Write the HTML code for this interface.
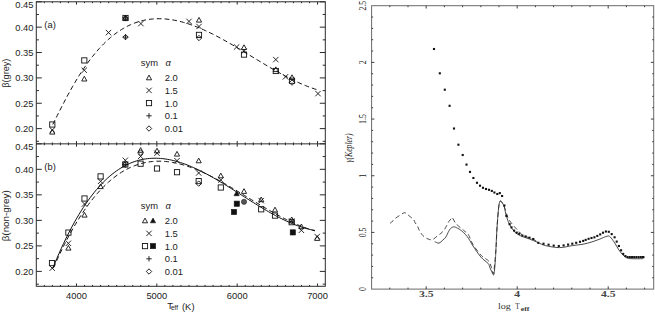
<!DOCTYPE html><html><head><meta charset="utf-8"><style>
html,body{margin:0;padding:0;background:#fff;width:655px;height:312px;overflow:hidden}
svg{display:block}
.ax{fill:none;stroke:#2a2a2a;stroke-width:1}
.o{fill:none;stroke:#111;stroke-width:0.9}
.f{fill:#111;stroke:#111;stroke-width:0.6}
.g{fill:#555;stroke:#222;stroke-width:0.6}
.ln{fill:none;stroke:#111;stroke-width:1}
.dl{fill:none;stroke:#111;stroke-width:1;stroke-dasharray:4.8 3}
.ts{font-family:"Liberation Sans",sans-serif;font-size:9.4px;fill:#222}
.tr{font-family:"Liberation Serif",serif;fill:#222}
</style></head><body>
<svg width="655" height="312" viewBox="0 0 655 312">
<rect x="36.3" y="1.8" width="289" height="284.5" class="ax"/>
<path class="ax" d="M36.3 143.85 H325.3"/>
<path class="ax" d="M44.34 143.85 v-1.4 M44.34 1.8 v1.4 M44.34 286.3 v-1.4 M44.34 143.85 v1.4 M52.37 143.85 v-1.4 M52.37 1.8 v1.4 M52.37 286.3 v-1.4 M52.37 143.85 v1.4 M60.41 143.85 v-1.4 M60.41 1.8 v1.4 M60.41 286.3 v-1.4 M60.41 143.85 v1.4 M68.44 143.85 v-1.4 M68.44 1.8 v1.4 M68.44 286.3 v-1.4 M68.44 143.85 v1.4 M76.48 143.85 v-2.8 M76.48 1.8 v2.8 M76.48 286.3 v-2.8 M76.48 143.85 v2.8 M84.52 143.85 v-1.4 M84.52 1.8 v1.4 M84.52 286.3 v-1.4 M84.52 143.85 v1.4 M92.55 143.85 v-1.4 M92.55 1.8 v1.4 M92.55 286.3 v-1.4 M92.55 143.85 v1.4 M100.59 143.85 v-1.4 M100.59 1.8 v1.4 M100.59 286.3 v-1.4 M100.59 143.85 v1.4 M108.62 143.85 v-1.4 M108.62 1.8 v1.4 M108.62 286.3 v-1.4 M108.62 143.85 v1.4 M116.66 143.85 v-1.4 M116.66 1.8 v1.4 M116.66 286.3 v-1.4 M116.66 143.85 v1.4 M124.7 143.85 v-1.4 M124.7 1.8 v1.4 M124.7 286.3 v-1.4 M124.7 143.85 v1.4 M132.73 143.85 v-1.4 M132.73 1.8 v1.4 M132.73 286.3 v-1.4 M132.73 143.85 v1.4 M140.77 143.85 v-1.4 M140.77 1.8 v1.4 M140.77 286.3 v-1.4 M140.77 143.85 v1.4 M148.8 143.85 v-1.4 M148.8 1.8 v1.4 M148.8 286.3 v-1.4 M148.8 143.85 v1.4 M156.84 143.85 v-2.8 M156.84 1.8 v2.8 M156.84 286.3 v-2.8 M156.84 143.85 v2.8 M164.88 143.85 v-1.4 M164.88 1.8 v1.4 M164.88 286.3 v-1.4 M164.88 143.85 v1.4 M172.91 143.85 v-1.4 M172.91 1.8 v1.4 M172.91 286.3 v-1.4 M172.91 143.85 v1.4 M180.95 143.85 v-1.4 M180.95 1.8 v1.4 M180.95 286.3 v-1.4 M180.95 143.85 v1.4 M188.98 143.85 v-1.4 M188.98 1.8 v1.4 M188.98 286.3 v-1.4 M188.98 143.85 v1.4 M197.02 143.85 v-1.4 M197.02 1.8 v1.4 M197.02 286.3 v-1.4 M197.02 143.85 v1.4 M205.06 143.85 v-1.4 M205.06 1.8 v1.4 M205.06 286.3 v-1.4 M205.06 143.85 v1.4 M213.09 143.85 v-1.4 M213.09 1.8 v1.4 M213.09 286.3 v-1.4 M213.09 143.85 v1.4 M221.13 143.85 v-1.4 M221.13 1.8 v1.4 M221.13 286.3 v-1.4 M221.13 143.85 v1.4 M229.16 143.85 v-1.4 M229.16 1.8 v1.4 M229.16 286.3 v-1.4 M229.16 143.85 v1.4 M237.2 143.85 v-2.8 M237.2 1.8 v2.8 M237.2 286.3 v-2.8 M237.2 143.85 v2.8 M245.24 143.85 v-1.4 M245.24 1.8 v1.4 M245.24 286.3 v-1.4 M245.24 143.85 v1.4 M253.27 143.85 v-1.4 M253.27 1.8 v1.4 M253.27 286.3 v-1.4 M253.27 143.85 v1.4 M261.31 143.85 v-1.4 M261.31 1.8 v1.4 M261.31 286.3 v-1.4 M261.31 143.85 v1.4 M269.34 143.85 v-1.4 M269.34 1.8 v1.4 M269.34 286.3 v-1.4 M269.34 143.85 v1.4 M277.38 143.85 v-1.4 M277.38 1.8 v1.4 M277.38 286.3 v-1.4 M277.38 143.85 v1.4 M285.42 143.85 v-1.4 M285.42 1.8 v1.4 M285.42 286.3 v-1.4 M285.42 143.85 v1.4 M293.45 143.85 v-1.4 M293.45 1.8 v1.4 M293.45 286.3 v-1.4 M293.45 143.85 v1.4 M301.49 143.85 v-1.4 M301.49 1.8 v1.4 M301.49 286.3 v-1.4 M301.49 143.85 v1.4 M309.52 143.85 v-1.4 M309.52 1.8 v1.4 M309.52 286.3 v-1.4 M309.52 143.85 v1.4 M317.56 143.85 v-2.8 M317.56 1.8 v2.8 M317.56 286.3 v-2.8 M317.56 143.85 v2.8 M36.3 1.8 h5.5 M325.3 1.8 h-5.5 M36.3 143.8 h5.5 M325.3 143.8 h-5.5 M36.3 14.48 h2.6 M325.3 14.48 h-2.6 M36.3 156.56 h2.6 M325.3 156.56 h-2.6 M36.3 27.16 h5.5 M325.3 27.16 h-5.5 M36.3 169.32 h5.5 M325.3 169.32 h-5.5 M36.3 39.85 h2.6 M325.3 39.85 h-2.6 M36.3 182.08 h2.6 M325.3 182.08 h-2.6 M36.3 52.53 h5.5 M325.3 52.53 h-5.5 M36.3 194.84 h5.5 M325.3 194.84 h-5.5 M36.3 65.21 h2.6 M325.3 65.21 h-2.6 M36.3 207.6 h2.6 M325.3 207.6 h-2.6 M36.3 77.9 h5.5 M325.3 77.9 h-5.5 M36.3 220.36 h5.5 M325.3 220.36 h-5.5 M36.3 90.58 h2.6 M325.3 90.58 h-2.6 M36.3 233.12 h2.6 M325.3 233.12 h-2.6 M36.3 103.26 h5.5 M325.3 103.26 h-5.5 M36.3 245.88 h5.5 M325.3 245.88 h-5.5 M36.3 115.94 h2.6 M325.3 115.94 h-2.6 M36.3 258.64 h2.6 M325.3 258.64 h-2.6 M36.3 128.62 h5.5 M325.3 128.62 h-5.5 M36.3 271.4 h5.5 M325.3 271.4 h-5.5 M36.3 141.31 h2.6 M325.3 141.31 h-2.6 M36.3 284.16 h2.6 M325.3 284.16 h-2.6"/>
<text class="ts" x="33.5" y="7.7" text-anchor="end">0.45</text>
<text class="ts" x="33.5" y="30.66" text-anchor="end">0.40</text>
<text class="ts" x="33.5" y="56.03" text-anchor="end">0.35</text>
<text class="ts" x="33.5" y="81.4" text-anchor="end">0.30</text>
<text class="ts" x="33.5" y="106.76" text-anchor="end">0.25</text>
<text class="ts" x="33.5" y="132.12" text-anchor="end">0.20</text>
<text class="ts" x="33.5" y="149.8" text-anchor="end">0.45</text>
<text class="ts" x="33.5" y="172.82" text-anchor="end">0.40</text>
<text class="ts" x="33.5" y="198.34" text-anchor="end">0.35</text>
<text class="ts" x="33.5" y="223.86" text-anchor="end">0.30</text>
<text class="ts" x="33.5" y="249.38" text-anchor="end">0.25</text>
<text class="ts" x="33.5" y="274.9" text-anchor="end">0.20</text>
<text class="ts" x="76.48" y="298.6" text-anchor="middle">4000</text>
<text class="ts" x="156.84" y="298.6" text-anchor="middle">5000</text>
<text class="ts" x="237.2" y="298.6" text-anchor="middle">6000</text>
<text class="ts" x="317.56" y="298.6" text-anchor="middle">7000</text>
<text class="ts" x="167.3" y="308.6">T</text><text class="ts" x="171" y="310.4" style="font-size:6.5px">eff</text><text class="ts" x="182" y="309.6">(K)</text>
<text class="ts" transform="translate(8.7,73.2) rotate(-90)" text-anchor="middle" textLength="29" lengthAdjust="spacingAndGlyphs">β(grey)</text>
<text class="ts" transform="translate(8.7,215.8) rotate(-90)" text-anchor="middle" textLength="51" lengthAdjust="spacingAndGlyphs">β(non-grey)</text>
<text class="ts" x="44.3" y="27.5">(a)</text>
<text class="ts" x="44.3" y="169.8">(b)</text>
<text class="ts" x="140.8" y="65.6">sym</text><text class="ts" x="165.6" y="65.6" style="font-style:italic">α</text>
<path d="M149 75.1 L146.4 79.8 L151.6 79.8 Z" class="o"/>
<text class="ts" x="164.8" y="81.1">2.0</text>
<path d="M146.3 87.7 L151.7 93.1 M146.3 93.1 L151.7 87.7" class="o"/>
<text class="ts" x="164.8" y="93.8">1.5</text>
<rect x="146.4" y="100.5" width="5.2" height="5.2" class="o"/>
<text class="ts" x="164.8" y="106.5">1.0</text>
<path d="M146.3 115.8 L151.7 115.8 M149 113.1 L149 118.5" class="o"/>
<text class="ts" x="164.8" y="119.2">0.1</text>
<path d="M149 125.8 L151.7 128.5 L149 131.2 L146.3 128.5 Z" class="o"/>
<text class="ts" x="164.8" y="131.9">0.01</text>
<text class="ts" x="140.8" y="208.7">sym</text><text class="ts" x="165.6" y="208.7" style="font-style:italic">α</text>
<path d="M145 218.1 L142.4 222.8 L147.6 222.8 Z" class="o"/>
<path d="M153 218.1 L150.4 222.8 L155.6 222.8 Z" class="f"/>
<text class="ts" x="164.8" y="224.1">2.0</text>
<path d="M146.3 230.7 L151.7 236.1 M146.3 236.1 L151.7 230.7" class="o"/>
<text class="ts" x="164.8" y="236.8">1.5</text>
<rect x="142.4" y="243.5" width="5.2" height="5.2" class="o"/>
<rect x="150.4" y="243.5" width="5.2" height="5.2" class="f"/>
<text class="ts" x="164.8" y="249.5">1.0</text>
<path d="M146.3 258.8 L151.7 258.8 M149 256.1 L149 261.5" class="o"/>
<text class="ts" x="164.8" y="262.2">0.1</text>
<path d="M149 268.8 L151.7 271.5 L149 274.2 L146.3 271.5 Z" class="o"/>
<text class="ts" x="164.8" y="274.9">0.01</text>
<path class="dl" d="M52.8 124.5 L55.02 120.02 L57.23 115.57 L59.45 111.17 L61.66 106.83 L63.88 102.55 L66.1 98.35 L68.31 94.23 L70.53 90.2 L72.74 86.27 L74.96 82.45 L77.18 78.75 L79.39 75.18 L81.61 71.73 L83.82 68.4 L86.04 65.19 L88.26 62.11 L90.47 59.14 L92.69 56.3 L94.9 53.57 L97.12 50.96 L99.34 48.46 L101.55 46.08 L103.77 43.81 L105.98 41.66 L108.2 39.61 L110.42 37.67 L112.63 35.84 L114.85 34.12 L117.06 32.49 L119.28 30.97 L121.49 29.55 L123.71 28.22 L125.93 26.99 L128.14 25.86 L130.36 24.81 L132.57 23.86 L134.79 22.99 L137.01 22.21 L139.22 21.51 L141.44 20.9 L143.65 20.36 L145.87 19.91 L148.09 19.53 L150.3 19.22 L152.52 18.99 L154.73 18.83 L156.95 18.74 L159.17 18.72 L161.38 18.76 L163.6 18.86 L165.81 19.03 L168.03 19.26 L170.25 19.54 L172.46 19.88 L174.68 20.28 L176.89 20.73 L179.11 21.23 L181.33 21.78 L183.54 22.38 L185.76 23.03 L187.97 23.72 L190.19 24.46 L192.41 25.24 L194.62 26.06 L196.84 26.92 L199.05 27.82 L201.27 28.76 L203.49 29.73 L205.7 30.73 L207.92 31.76 L210.13 32.83 L212.35 33.92 L214.57 35.05 L216.78 36.19 L219 37.36 L221.21 38.56 L223.43 39.77 L225.65 41.01 L227.86 42.26 L230.08 43.53 L232.29 44.82 L234.51 46.11 L236.73 47.42 L238.94 48.74 L241.16 50.07 L243.37 51.41 L245.59 52.75 L247.81 54.1 L250.02 55.45 L252.24 56.8 L254.45 58.15 L256.67 59.49 L258.88 60.84 L261.1 62.18 L263.32 63.51 L265.53 64.84 L267.75 66.15 L269.96 67.46 L272.18 68.75 L274.4 70.02 L276.61 71.29 L278.83 72.53 L281.04 73.76 L283.26 74.96 L285.48 76.14 L287.69 77.3 L289.91 78.44 L292.12 79.55 L294.34 80.63 L296.56 81.68 L298.77 82.7 L300.99 83.69 L303.2 84.64 L305.42 85.56 L307.64 86.44 L309.85 87.28 L312.07 88.08 L314.28 88.84 L316.5 89.55"/>
<path class="ln" d="M52.5 268.9 L54.71 263.51 L56.91 258.29 L59.12 253.22 L61.32 248.31 L63.53 243.56 L65.74 238.95 L67.94 234.5 L70.15 230.2 L72.35 226.05 L74.56 222.04 L76.76 218.17 L78.97 214.45 L81.18 210.86 L83.38 207.42 L85.59 204.11 L87.79 200.93 L90 197.88 L92.21 194.97 L94.41 192.18 L96.62 189.52 L98.82 186.98 L101.03 184.57 L103.24 182.28 L105.44 180.1 L107.65 178.04 L109.85 176.1 L112.06 174.27 L114.26 172.55 L116.47 170.93 L118.68 169.43 L120.88 168.03 L123.09 166.73 L125.29 165.53 L127.5 164.43 L129.71 163.43 L131.91 162.52 L134.12 161.71 L136.32 160.99 L138.53 160.35 L140.74 159.8 L142.94 159.34 L145.15 158.96 L147.35 158.66 L149.56 158.44 L151.76 158.3 L153.97 158.23 L156.18 158.23 L158.38 158.31 L160.59 158.45 L162.79 158.66 L165 158.94 L167.21 159.28 L169.41 159.68 L171.62 160.15 L173.82 160.67 L176.03 161.24 L178.24 161.87 L180.44 162.55 L182.65 163.29 L184.85 164.07 L187.06 164.9 L189.26 165.77 L191.47 166.69 L193.68 167.65 L195.88 168.65 L198.09 169.68 L200.29 170.76 L202.5 171.86 L204.71 173 L206.91 174.17 L209.12 175.37 L211.32 176.59 L213.53 177.84 L215.74 179.11 L217.94 180.41 L220.15 181.72 L222.35 183.05 L224.56 184.4 L226.76 185.76 L228.97 187.13 L231.18 188.51 L233.38 189.9 L235.59 191.3 L237.79 192.7 L240 194.11 L242.21 195.51 L244.41 196.92 L246.62 198.32 L248.82 199.72 L251.03 201.11 L253.24 202.49 L255.44 203.87 L257.65 205.23 L259.85 206.58 L262.06 207.91 L264.26 209.22 L266.47 210.52 L268.68 211.8 L270.88 213.05 L273.09 214.28 L275.29 215.48 L277.5 216.65 L279.71 217.79 L281.91 218.91 L284.12 219.98 L286.32 221.02 L288.53 222.03 L290.74 222.99 L292.94 223.92 L295.15 224.8 L297.35 225.63 L299.56 226.42 L301.76 227.16 L303.97 227.85 L306.18 228.49 L308.38 229.08 L310.59 229.6 L312.79 230.07 L315 230.49"/>
<path class="dl" d="M53.5 267.92 L55.7 262.92 L57.89 258.08 L60.09 253.37 L62.29 248.8 L64.49 244.37 L66.68 240.07 L68.88 235.91 L71.08 231.88 L73.28 227.99 L75.47 224.22 L77.67 220.58 L79.87 217.07 L82.07 213.68 L84.26 210.41 L86.46 207.27 L88.66 204.25 L90.86 201.34 L93.05 198.55 L95.25 195.88 L97.45 193.32 L99.65 190.87 L101.84 188.53 L104.04 186.3 L106.24 184.18 L108.44 182.16 L110.63 180.25 L112.83 178.44 L115.03 176.73 L117.23 175.12 L119.42 173.61 L121.62 172.19 L123.82 170.87 L126.02 169.64 L128.21 168.5 L130.41 167.45 L132.61 166.48 L134.81 165.61 L137 164.82 L139.2 164.11 L141.4 163.48 L143.6 162.93 L145.79 162.46 L147.99 162.07 L150.19 161.75 L152.39 161.51 L154.58 161.34 L156.78 161.23 L158.98 161.2 L161.18 161.23 L163.37 161.33 L165.57 161.49 L167.77 161.72 L169.97 162 L172.16 162.35 L174.36 162.75 L176.56 163.2 L178.76 163.71 L180.95 164.27 L183.15 164.89 L185.35 165.55 L187.55 166.25 L189.74 167.01 L191.94 167.8 L194.14 168.64 L196.34 169.52 L198.53 170.44 L200.73 171.39 L202.93 172.38 L205.13 173.4 L207.32 174.45 L209.52 175.53 L211.72 176.65 L213.92 177.78 L216.11 178.95 L218.31 180.13 L220.51 181.34 L222.71 182.57 L224.9 183.81 L227.1 185.07 L229.3 186.35 L231.5 187.64 L233.69 188.94 L235.89 190.25 L238.09 191.57 L240.29 192.9 L242.48 194.23 L244.68 195.57 L246.88 196.91 L249.08 198.25 L251.27 199.58 L253.47 200.92 L255.67 202.25 L257.87 203.58 L260.06 204.89 L262.26 206.2 L264.46 207.5 L266.66 208.79 L268.85 210.06 L271.05 211.32 L273.25 212.56 L275.45 213.78 L277.64 214.99 L279.84 216.17 L282.04 217.33 L284.24 218.46 L286.43 219.57 L288.63 220.65 L290.83 221.7 L293.03 222.72 L295.22 223.7 L297.42 224.66 L299.62 225.57 L301.82 226.45 L304.01 227.29 L306.21 228.09 L308.41 228.85 L310.61 229.56 L312.8 230.23 L315 230.85"/>
<rect x="49.7" y="121.9" width="5.2" height="5.2" class="o"/>
<path d="M49.6 127.3 L55 132.7 M49.6 132.7 L55 127.3" class="o"/>
<path d="M52.3 129.4 L49.7 134.1 L54.9 134.1 Z" class="o"/>
<rect x="81.7" y="57.8" width="5.2" height="5.2" class="o"/>
<path d="M81.6 67.5 L87 72.9 M81.6 72.9 L87 67.5" class="o"/>
<path d="M84.3 76.3 L81.7 81 L86.9 81 Z" class="o"/>
<path d="M105.8 29.9 L111.2 35.3 M105.8 35.3 L111.2 29.9" class="o"/>
<rect x="122.9" y="15.4" width="5.2" height="5.2" class="o"/>
<path d="M125.5 15.4 L122.9 20.1 L128.1 20.1 Z" class="o"/>
<path d="M122.8 18 L128.2 18 M125.5 15.3 L125.5 20.7" class="o"/>
<path d="M125.5 15.3 L128.2 18 L125.5 20.7 L122.8 18 Z" class="o"/>
<path d="M125.5 34.4 L128.2 37.1 L125.5 39.8 L122.8 37.1 Z" class="o"/>
<path d="M122.8 37.1 L128.2 37.1 M125.5 34.4 L125.5 39.8" class="o"/>
<path d="M138.2 20.9 L143.6 26.3 M138.2 26.3 L143.6 20.9" class="o"/>
<path d="M186.3 18.7 L191.7 24.1 M186.3 24.1 L191.7 18.7" class="o"/>
<path d="M199 17.4 L196.4 22.1 L201.6 22.1 Z" class="o"/>
<path d="M196.3 23.8 L201.7 29.2 M196.3 29.2 L201.7 23.8" class="o"/>
<rect x="196.4" y="32.3" width="5.2" height="5.2" class="o"/>
<path d="M199 35.3 L201.7 38 L199 40.7 L196.3 38 Z" class="o"/>
<path d="M233.9 44.3 L239.3 49.7 M233.9 49.7 L239.3 44.3" class="o"/>
<path d="M244 44.8 L241.4 49.5 L246.6 49.5 Z" class="o"/>
<path d="M241.3 48.5 L246.7 53.9 M241.3 53.9 L246.7 48.5" class="o"/>
<rect x="241.4" y="52" width="5.2" height="5.2" class="o"/>
<path d="M273.1 56.9 L278.5 62.3 M273.1 62.3 L278.5 56.9" class="o"/>
<rect x="273.2" y="68.4" width="5.2" height="5.2" class="o"/>
<path d="M275.8 66.9 L273.2 71.6 L278.4 71.6 Z" class="o"/>
<path d="M282.8 74.1 L288.2 79.5 M282.8 79.5 L288.2 74.1" class="o"/>
<path d="M292 74.8 L289.4 79.5 L294.6 79.5 Z" class="o"/>
<rect x="289.4" y="78.1" width="5.2" height="5.2" class="o"/>
<path d="M292 79.9 L294.7 82.6 L292 85.3 L289.3 82.6 Z" class="o"/>
<path d="M315.3 90.9 L320.7 96.3 M315.3 96.3 L320.7 90.9" class="o"/>
<rect x="49.4" y="260.5" width="5.2" height="5.2" class="o"/>
<path d="M49.5 265.5 L54.9 270.9 M49.5 270.9 L54.9 265.5" class="o"/>
<rect x="65.8" y="230" width="5.2" height="5.2" class="o"/>
<path d="M65.7 240.6 L71.1 246 M65.7 246 L71.1 240.6" class="o"/>
<path d="M68.4 245.4 L65.8 250.1 L71 250.1 Z" class="o"/>
<rect x="81.9" y="195.9" width="5.2" height="5.2" class="o"/>
<path d="M81.8 201.3 L87.2 206.7 M81.8 206.7 L87.2 201.3" class="o"/>
<path d="M84.5 212.4 L81.9 217.1 L87.1 217.1 Z" class="o"/>
<rect x="98" y="173.8" width="5.2" height="5.2" class="o"/>
<path d="M97.9 178.6 L103.3 184 M97.9 184 L103.3 178.6" class="o"/>
<path d="M100.6 183.9 L98 188.6 L103.2 188.6 Z" class="o"/>
<path d="M122.6 157.6 L128 163 M122.6 163 L128 157.6" class="o"/>
<rect x="122.7" y="161.9" width="5.2" height="5.2" class="o"/>
<path d="M125.3 161.8 L128 164.5 L125.3 167.2 L122.6 164.5 Z" class="o"/>
<path d="M122.6 164.5 L128 164.5 M125.3 161.8 L125.3 167.2" class="o"/>
<path d="M140.6 147.6 L138 152.3 L143.2 152.3 Z" class="o"/>
<path d="M140.6 149.8 L143.3 152.5 L140.6 155.2 L137.9 152.5 Z" class="o"/>
<path d="M137.9 153.7 L143.3 159.1 M137.9 159.1 L143.3 153.7" class="o"/>
<rect x="138" y="161.1" width="5.2" height="5.2" class="o"/>
<path d="M157 148.2 L154.4 152.9 L159.6 152.9 Z" class="o"/>
<path d="M154.3 150.5 L159.7 155.9 M154.3 155.9 L159.7 150.5" class="o"/>
<rect x="154.4" y="165.9" width="5.2" height="5.2" class="o"/>
<path d="M177 151.4 L174.4 156.1 L179.6 156.1 Z" class="o"/>
<path d="M174.3 158 L179.7 163.4 M174.3 163.4 L179.7 158" class="o"/>
<rect x="174.4" y="169.6" width="5.2" height="5.2" class="o"/>
<path d="M198.7 158.1 L196.1 162.8 L201.3 162.8 Z" class="o"/>
<path d="M196 170.3 L201.4 175.7 M196 175.7 L201.4 170.3" class="o"/>
<rect x="196.1" y="178.5" width="5.2" height="5.2" class="o"/>
<path d="M198.7 180.9 L201.4 183.6 L198.7 186.3 L196 183.6 Z" class="o"/>
<path d="M220.8 173.1 L218.2 177.8 L223.4 177.8 Z" class="o"/>
<path d="M218.1 177.3 L223.5 182.7 M218.1 182.7 L223.5 177.3" class="o"/>
<rect x="218.2" y="184.9" width="5.2" height="5.2" class="o"/>
<path d="M236.6 191 L234 195.7 L239.2 195.7 Z" class="f"/>
<rect x="234.2" y="201.1" width="5.2" height="5.2" class="f"/>
<rect x="231.4" y="209.4" width="5.2" height="5.2" class="f"/>
<path d="M244 188.7 L241.4 193.4 L246.6 193.4 Z" class="o"/>
<circle cx="244" cy="201.8" r="2.6" class="g"/>
<path d="M261.2 197 L258.6 201.7 L263.8 201.7 Z" class="o"/>
<path d="M258.5 197.9 L263.9 203.3 M258.5 203.3 L263.9 197.9" class="o"/>
<rect x="258.6" y="206.7" width="5.2" height="5.2" class="o"/>
<path d="M275 207.2 L272.4 211.9 L277.6 211.9 Z" class="o"/>
<rect x="272.4" y="213" width="5.2" height="5.2" class="o"/>
<path d="M291.7 217 L289.1 221.7 L294.3 221.7 Z" class="o"/>
<path d="M289 218.3 L294.4 223.7 M289 223.7 L294.4 218.3" class="o"/>
<rect x="289.1" y="219.6" width="5.2" height="5.2" class="o"/>
<rect x="290.2" y="229.8" width="5.2" height="5.2" class="f"/>
<path d="M301.4 224 L298.8 228.7 L304 228.7 Z" class="o"/>
<path d="M298.7 227.6 L304.1 233 M298.7 233 L304.1 227.6" class="o"/>
<path d="M314.5 233.9 L319.9 239.3 M314.5 239.3 L319.9 233.9" class="o"/>
<path d="M317.2 235.7 L314.6 240.4 L319.8 240.4 Z" class="o"/>
<rect x="371.6" y="5.7" width="282.1" height="283.4" class="ax" style="stroke:#6a6a6a"/>
<path class="ax" d="M389.8 289.1 v-1.5 M389.8 5.7 v1.5 M408 289.1 v-1.5 M408 5.7 v1.5 M426.2 289.1 v-2.8 M426.2 5.7 v2.8 M444.4 289.1 v-1.5 M444.4 5.7 v1.5 M462.6 289.1 v-1.5 M462.6 5.7 v1.5 M480.8 289.1 v-1.5 M480.8 5.7 v1.5 M499 289.1 v-1.5 M499 5.7 v1.5 M517.2 289.1 v-2.8 M517.2 5.7 v2.8 M535.4 289.1 v-1.5 M535.4 5.7 v1.5 M553.6 289.1 v-1.5 M553.6 5.7 v1.5 M571.8 289.1 v-1.5 M571.8 5.7 v1.5 M590 289.1 v-1.5 M590 5.7 v1.5 M608.2 289.1 v-2.8 M608.2 5.7 v2.8 M626.4 289.1 v-1.5 M626.4 5.7 v1.5 M644.6 289.1 v-1.5 M644.6 5.7 v1.5 M371.6 277.76 h1.5 M653.7 277.76 h-1.5 M371.6 266.43 h1.5 M653.7 266.43 h-1.5 M371.6 255.09 h1.5 M653.7 255.09 h-1.5 M371.6 243.76 h1.5 M653.7 243.76 h-1.5 M371.6 232.42 h2.8 M653.7 232.42 h-2.8 M371.6 221.08 h1.5 M653.7 221.08 h-1.5 M371.6 209.75 h1.5 M653.7 209.75 h-1.5 M371.6 198.41 h1.5 M653.7 198.41 h-1.5 M371.6 187.08 h1.5 M653.7 187.08 h-1.5 M371.6 175.74 h2.8 M653.7 175.74 h-2.8 M371.6 164.4 h1.5 M653.7 164.4 h-1.5 M371.6 153.07 h1.5 M653.7 153.07 h-1.5 M371.6 141.73 h1.5 M653.7 141.73 h-1.5 M371.6 130.4 h1.5 M653.7 130.4 h-1.5 M371.6 119.06 h2.8 M653.7 119.06 h-2.8 M371.6 107.72 h1.5 M653.7 107.72 h-1.5 M371.6 96.39 h1.5 M653.7 96.39 h-1.5 M371.6 85.05 h1.5 M653.7 85.05 h-1.5 M371.6 73.72 h1.5 M653.7 73.72 h-1.5 M371.6 62.38 h2.8 M653.7 62.38 h-2.8 M371.6 51.04 h1.5 M653.7 51.04 h-1.5 M371.6 39.71 h1.5 M653.7 39.71 h-1.5 M371.6 28.37 h1.5 M653.7 28.37 h-1.5 M371.6 17.04 h1.5 M653.7 17.04 h-1.5" style="stroke-width:0.9"/>
<text class="tr" x="0" y="0" text-anchor="middle" transform="translate(426.2,296.9) scale(1.3,0.8)" style="font-size:9px;font-weight:bold;fill:#444">3.5</text>
<text class="tr" x="0" y="0" text-anchor="middle" transform="translate(517.2,296.9) scale(1.3,0.8)" style="font-size:9px;font-weight:bold;fill:#444">4</text>
<text class="tr" x="0" y="0" text-anchor="middle" transform="translate(608.2,296.9) scale(1.3,0.8)" style="font-size:9px;font-weight:bold;fill:#444">4.5</text>
<text class="tr" x="0" y="0" text-anchor="middle" transform="translate(366,289.1) rotate(-90) scale(0.78,1)" style="font-size:10px">0</text>
<text class="tr" x="0" y="0" text-anchor="middle" transform="translate(366,232.42) rotate(-90) scale(0.78,1)" style="font-size:10px">0.5</text>
<text class="tr" x="0" y="0" text-anchor="middle" transform="translate(366,175.74) rotate(-90) scale(0.78,1)" style="font-size:10px">1</text>
<text class="tr" x="0" y="0" text-anchor="middle" transform="translate(366,119.06) rotate(-90) scale(0.78,1)" style="font-size:10px">1.5</text>
<text class="tr" x="0" y="0" text-anchor="middle" transform="translate(366,62.38) rotate(-90) scale(0.78,1)" style="font-size:10px">2</text>
<text class="tr" x="0" y="0" text-anchor="middle" transform="translate(366,5.7) rotate(-90) scale(0.78,1)" style="font-size:10px">2.5</text>
<text class="tr" x="0" y="0" transform="translate(352,148) rotate(-90)" text-anchor="middle" textLength="29" lengthAdjust="spacingAndGlyphs" style="font-size:9.5px;font-style:italic">γ(Kepler)</text>
<text class="tr" x="0" y="0" transform="translate(498,308.8) scale(1.12,0.8)" style="font-size:9px;fill:#333">log</text>
<text class="tr" x="0" y="0" transform="translate(515.3,308.8) scale(0.8,0.8)" style="font-size:9px;fill:#333">T</text>
<text class="tr" x="0" y="0" transform="translate(520.8,311) scale(1.18,0.9)" style="font-size:6.5px;font-weight:bold;fill:#333">eff</text>
<path class="dl" d="M390.1 223.3 C390.58 222.88 392.12 221.63 393 220.8 C393.88 219.97 394.28 219.2 395.4 218.3 C396.52 217.4 398.33 216.28 399.7 215.4 C401.07 214.52 402.63 213.42 403.6 213 C404.57 212.58 404.87 212.67 405.5 212.9 C406.13 213.13 406.6 213.75 407.4 214.4 C408.2 215.05 409.25 215.92 410.3 216.8 C411.35 217.68 412.9 218.72 413.7 219.7 C414.5 220.68 414.47 221.65 415.1 222.7 C415.73 223.75 416.88 224.88 417.5 226 C418.12 227.12 418.1 228.03 418.8 229.4 C419.5 230.77 420.73 232.92 421.7 234.2 C422.67 235.48 423.32 236.22 424.6 237.1 C425.88 237.98 428.03 239.1 429.4 239.5 C430.77 239.9 431.52 240.05 432.8 239.5 C434.08 238.95 435.73 237.23 437.1 236.2 C438.47 235.17 439.88 234.27 441 233.3 C442.12 232.33 442.85 231.68 443.8 230.4 C444.75 229.12 445.88 227.05 446.7 225.6 C447.52 224.15 447.9 222.9 448.7 221.7 C449.5 220.5 450.88 219.07 451.5 218.4 C452.12 217.73 451.85 217.1 452.4 217.7 C452.95 218.3 454 220.8 454.8 222 C455.6 223.2 456.23 223.93 457.2 224.9 C458.17 225.87 459.55 226.92 460.6 227.8 C461.65 228.68 462.55 229.4 463.5 230.2 C464.45 231 465.42 231.75 466.3 232.6 C467.18 233.45 467.68 233.3 468.8 235.3 C469.92 237.3 470.97 241.28 473 244.6 C475.03 247.92 478.87 252.83 481 255.2 C483.13 257.57 484.45 257.73 485.8 258.8 C487.15 259.87 488.15 260.15 489.1 261.6 C490.05 263.05 490.77 265.6 491.5 267.5 C492.23 269.4 492.77 275.92 493.5 273 C494.23 270.08 495.28 258 495.9 250 C496.52 242 496.58 232.97 497.2 225 C497.82 217.03 498.5 205.4 499.6 202.2 C500.7 199 502.38 203.17 503.8 205.8 C505.22 208.43 506.53 214.75 508.1 218 C509.67 221.25 511.55 223.22 513.2 225.3 C514.85 227.38 516.37 228.8 518 230.5 C519.63 232.2 521 234.25 523 235.5 C525 236.75 527.55 236.95 530 238 C532.45 239.05 536.42 241.17 537.7 241.8" style="stroke:#2a2a2a;stroke-width:0.85;stroke-dasharray:4.6 2.9"/>
<path class="ln" d="M434.7 241.7 C435.42 241.93 437.63 243.38 439 243.1 C440.37 242.82 441.77 241 442.9 240 C444.03 239 444.83 238.55 445.8 237.1 C446.77 235.65 447.9 232.73 448.7 231.3 C449.5 229.87 449.75 229.25 450.6 228.5 C451.45 227.75 452.62 226.83 453.8 226.8 C454.98 226.77 456.42 227.65 457.7 228.3 C458.98 228.95 460.22 229.67 461.5 230.7 C462.78 231.73 464.18 233.15 465.4 234.5 C466.62 235.85 467.53 236.88 468.8 238.8 C470.07 240.72 470.97 242.93 473 246 C475.03 249.07 478.47 254.28 481 257.2 C483.53 260.12 486.77 261.9 488.2 263.5 C489.63 265.1 489.05 265.52 489.6 266.8 C490.15 268.08 490.85 269.83 491.5 271.2 C492.15 272.57 493.02 275 493.5 275 C493.98 275 494.08 273.77 494.4 271.2 C494.72 268.63 495.15 263.13 495.4 259.6 C495.65 256.07 495.6 255.77 495.9 250 C496.2 244.23 496.58 232.97 497.2 225 C497.82 217.03 498.5 205.43 499.6 202.2 C500.7 198.97 502.77 203.63 503.8 205.6 C504.83 207.57 505.05 211.32 505.8 214 C506.55 216.68 507.45 219.57 508.3 221.7 C509.15 223.83 509.93 225.2 510.9 226.8 C511.87 228.4 512.92 230.02 514.1 231.3 C515.28 232.58 516.52 233.58 518 234.5 C519.48 235.42 521.08 236.05 523 236.8 C524.92 237.55 527.05 238.07 529.5 239 C531.95 239.93 535.05 241.3 537.7 242.4 C540.35 243.5 541.77 244.73 545.4 245.6 C549.03 246.47 555.02 247.6 559.5 247.6 C563.98 247.6 568.38 246.17 572.3 245.6 C576.22 245.03 579.88 244.77 583 244.2 C586.12 243.63 588.33 243 591 242.2 C593.67 241.4 596.32 240.4 599 239.4 C601.68 238.4 605.22 236.6 607.1 236.2 C608.98 235.8 608.98 235.8 610.3 237 C611.62 238.2 613.68 241.42 615 243.4 C616.32 245.38 616.95 247.03 618.2 248.9 C619.45 250.77 621.07 253.12 622.5 254.6 C623.93 256.08 625.35 257.12 626.8 257.8 C628.25 258.48 628.55 258.55 631.2 258.7 C633.85 258.85 640.78 258.7 642.7 258.7" style="stroke:#2a2a2a;stroke-width:0.85"/>
<g style="fill:#111"><rect x="432.95" y="47.95" width="2.1" height="2.1"/><rect x="438.75" y="72.25" width="2.1" height="2.1"/><rect x="443.75" y="88.65" width="2.1" height="2.1"/><rect x="448.55" y="104.75" width="2.1" height="2.1"/><rect x="452.95" y="127.45" width="2.1" height="2.1"/><rect x="457.35" y="143.65" width="2.1" height="2.1"/><rect x="461.65" y="153.95" width="2.1" height="2.1"/><rect x="465.45" y="163.55" width="2.1" height="2.1"/><rect x="468.95" y="170.85" width="2.1" height="2.1"/><rect x="472.35" y="176.95" width="2.1" height="2.1"/><rect x="475.95" y="181.75" width="2.1" height="2.1"/><rect x="478.95" y="184.65" width="2.1" height="2.1"/><rect x="481.95" y="186.75" width="2.1" height="2.1"/><rect x="484.95" y="187.95" width="2.1" height="2.1"/><rect x="487.95" y="188.75" width="2.1" height="2.1"/><rect x="490.75" y="189.85" width="2.1" height="2.1"/><rect x="493.35" y="191.45" width="2.1" height="2.1"/><rect x="496.25" y="192.95" width="2.1" height="2.1"/><rect x="498.75" y="192.05" width="2.1" height="2.1"/><rect x="501.05" y="194.95" width="2.1" height="2.1"/><rect x="503.35" y="204.45" width="2.1" height="2.1"/><rect x="505.35" y="214.85" width="2.1" height="2.1"/><rect x="508.55" y="223.15" width="2.1" height="2.1"/><rect x="510.45" y="226.35" width="2.1" height="2.1"/><rect x="513.05" y="229.55" width="2.1" height="2.1"/><rect x="515.65" y="231.55" width="2.1" height="2.1"/><rect x="518.15" y="232.75" width="2.1" height="2.1"/><rect x="521.35" y="234.45" width="2.1" height="2.1"/><rect x="524.55" y="235.35" width="2.1" height="2.1"/><rect x="528.45" y="236.65" width="2.1" height="2.1"/><rect x="532.25" y="237.95" width="2.1" height="2.1"/><rect x="537.25" y="241.75" width="2.1" height="2.1"/><rect x="542.45" y="242.65" width="2.1" height="2.1"/><rect x="547.55" y="243.65" width="2.1" height="2.1"/><rect x="552.65" y="244.55" width="2.1" height="2.1"/><rect x="557.75" y="244.95" width="2.1" height="2.1"/><rect x="562.55" y="244.35" width="2.1" height="2.1"/><rect x="567.05" y="243.55" width="2.1" height="2.1"/><rect x="571.25" y="242.65" width="2.1" height="2.1"/><rect x="575.15" y="241.75" width="2.1" height="2.1"/><rect x="578.95" y="240.75" width="2.1" height="2.1"/><rect x="582.15" y="239.85" width="2.1" height="2.1"/><rect x="584.65" y="238.85" width="2.1" height="2.1"/><rect x="587.55" y="237.75" width="2.1" height="2.1"/><rect x="590.45" y="236.95" width="2.1" height="2.1"/><rect x="593.35" y="236.25" width="2.1" height="2.1"/><rect x="596.25" y="234.85" width="2.1" height="2.1"/><rect x="599.15" y="233.35" width="2.1" height="2.1"/><rect x="601.95" y="231.65" width="2.1" height="2.1"/><rect x="604.85" y="230.45" width="2.1" height="2.1"/><rect x="607.75" y="230.75" width="2.1" height="2.1"/><rect x="610.65" y="233.05" width="2.1" height="2.1"/><rect x="613.55" y="236.25" width="2.1" height="2.1"/><rect x="615.65" y="240.55" width="2.1" height="2.1"/><rect x="617.85" y="244.95" width="2.1" height="2.1"/><rect x="620.05" y="249.25" width="2.1" height="2.1"/><rect x="622.15" y="252.85" width="2.1" height="2.1"/><rect x="624.35" y="255.05" width="2.1" height="2.1"/><rect x="626.55" y="256.05" width="2.1" height="2.1"/><rect x="628.75" y="256.05" width="2.1" height="2.1"/><rect x="630.95" y="256.05" width="2.1" height="2.1"/><rect x="633.15" y="256.05" width="2.1" height="2.1"/><rect x="635.35" y="256.05" width="2.1" height="2.1"/><rect x="637.55" y="256.05" width="2.1" height="2.1"/><rect x="639.75" y="256.05" width="2.1" height="2.1"/><rect x="641.95" y="256.05" width="2.1" height="2.1"/><rect x="642.35" y="256.15" width="2.1" height="2.1"/></g>
</svg></body></html>
